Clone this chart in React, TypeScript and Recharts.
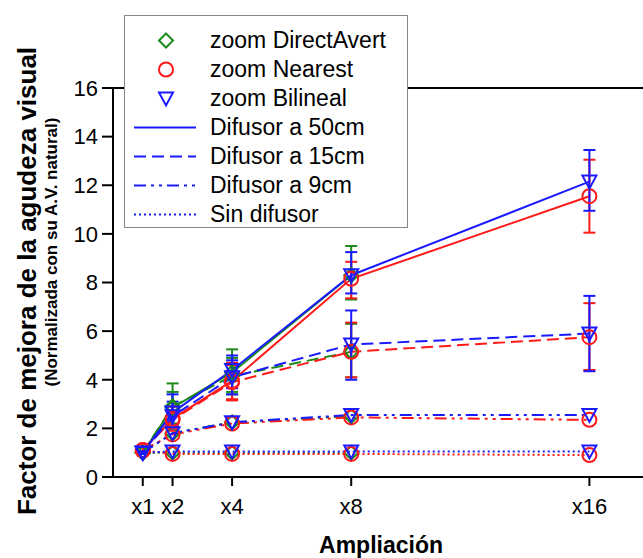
import * as React from "react";
import {
  LineChart,
  Line,
  XAxis,
  YAxis,
  ErrorBar,
  Legend,
  Label,
  ReferenceLine,
} from "recharts";

const FONT = "'Liberation Sans', Arial, sans-serif";

// magnification levels (x axis) and their labels
const zooms = [1, 2, 4, 8, 16];
const zoomLabels = ["x1", "x2", "x4", "x8", "x16"];
const yTicks = [0, 2, 4, 6, 8, 10, 12, 14, 16];

// zoom DirectAvert (green, no x16 point)
const directAvert50 = [1.0, 2.85, 4.3, 8.3];
const directAvert50Low = [0.95, 2.1, 3.5, 7.3];
const directAvert50High = [1.05, 3.85, 5.25, 9.5];
const directAvert15 = [1.0, 2.9, 4.15, 5.15];
const directAvert15Low = [0.95, 2.2, 3.4, 4.1];
const directAvert15High = [1.05, 3.5, 4.9, 6.3];
const directAvert9 = [1.0, 1.8, 2.25, 2.5];
const directAvert0 = [1.0, 1.0, 1.0, 1.0];

// zoom Nearest (red)
const nearest50 = [1.1, 2.4, 3.95, 8.15, 11.55];
const nearest50Low = [1.0, 2.0, 3.15, 7.35, 10.05];
const nearest50High = [1.2, 2.9, 4.7, 8.85, 13.05];
const nearest15 = [1.1, 2.35, 3.9, 5.15, 5.75];
const nearest15Low = [1.0, 1.9, 3.2, 4.1, 4.4];
const nearest15High = [1.2, 2.9, 4.6, 6.35, 7.15];
const nearest9 = [1.1, 1.75, 2.2, 2.45, 2.35];
const nearest0 = [1.1, 0.95, 0.95, 0.95, 0.9];

// zoom Bilineal (blue)
const bilineal50 = [1.0, 2.65, 4.4, 8.3, 12.15];
const bilineal50Low = [0.95, 2.1, 3.65, 7.55, 10.95];
const bilineal50High = [1.05, 3.4, 5.0, 9.25, 13.45];
const bilineal15 = [1.0, 2.5, 4.1, 5.45, 5.9];
const bilineal15Low = [0.95, 2.0, 3.4, 4.0, 4.35];
const bilineal15High = [1.05, 3.1, 4.8, 6.85, 7.45];
const bilineal9 = [1.0, 1.8, 2.25, 2.55, 2.55];
const bilineal0 = [1.0, 1.05, 1.05, 1.05, 1.05];

const methods = [
  { name: "zoom DirectAvert", color: "#1a8a1a", shape: "diamond" },
  { name: "zoom Nearest", color: "#ff1a1a", shape: "circle" },
  { name: "zoom Bilineal", color: "#1a1aff", shape: "triangle" },
];

const diffusers = [
  { name: "Difusor a 50cm", dash: undefined },
  { name: "Difusor a 15cm", dash: "12 6" },
  { name: "Difusor a 9cm", dash: "12 5 3 5 3 5" },
  { name: "Sin difusor", dash: "2 3" },
];

// [method][diffuser] -> values, low, high
const seriesTable: [number[], number[]?, number[]?][][] = [
  [
    [directAvert50, directAvert50Low, directAvert50High],
    [directAvert15, directAvert15Low, directAvert15High],
    [directAvert9],
    [directAvert0],
  ],
  [
    [nearest50, nearest50Low, nearest50High],
    [nearest15, nearest15Low, nearest15High],
    [nearest9],
    [nearest0],
  ],
  [
    [bilineal50, bilineal50Low, bilineal50High],
    [bilineal15, bilineal15Low, bilineal15High],
    [bilineal9],
    [bilineal0],
  ],
];

function buildData(values: number[], low?: number[], high?: number[]) {
  return values.map((v, i) => ({
    x: zooms[i],
    y: v,
    err: low && high ? [v - low[i], high[i] - v] : undefined,
  }));
}

function Marker({ shape, cx, cy, color, s = 7 }: any) {
  if (shape === "circle") {
    return <circle cx={cx} cy={cy} r={s} fill="none" stroke={color} strokeWidth={2} />;
  }
  if (shape === "diamond") {
    const pts = `${cx},${cy - s} ${cx + s},${cy} ${cx},${cy + s} ${cx - s},${cy}`;
    return <polygon points={pts} fill="none" stroke={color} strokeWidth={2} />;
  }
  const pts = `${cx - s},${cy - s + 1} ${cx + s},${cy - s + 1} ${cx},${cy + s}`;
  return <polygon points={pts} fill="none" stroke={color} strokeWidth={2} />;
}

function renderLegend() {
  return (
    <div
      style={{
        width: 284,
        height: 213,
        border: "1px solid #888",
        background: "#fff",
        fontFamily: FONT,
        fontSize: 23,
        color: "#000",
        boxSizing: "border-box",
        paddingTop: 10,
      }}
    >
      {methods.map((m) => (
        <div key={m.name} style={{ display: "flex", alignItems: "center", height: 29 }}>
          <svg width={85} height={29} style={{ flexShrink: 0 }}>
            <Marker shape={m.shape} cx={41} cy={14.5} color={m.color} s={7} />
          </svg>
          <span style={{ whiteSpace: "nowrap" }}>{m.name}</span>
        </div>
      ))}
      {diffusers.map((d) => (
        <div key={d.name} style={{ display: "flex", alignItems: "center", height: 29 }}>
          <svg width={85} height={29} style={{ flexShrink: 0 }}>
            <line x1={9} x2={71} y1={14.5} y2={14.5} stroke="#1a1aff" strokeWidth={2} strokeDasharray={d.dash} />
          </svg>
          <span style={{ whiteSpace: "nowrap" }}>{d.name}</span>
        </div>
      ))}
    </div>
  );
}

const renderYTitle = () => (
  <g>
    <text
      transform="translate(36, 281) rotate(-90)"
      textAnchor="middle"
      fontFamily={FONT}
      fontSize={26}
      fontWeight="bold"
      fill="#000"
    >
      Factor de mejora de la agudeza visual
    </text>
    <text
      transform="translate(57, 252) rotate(-90)"
      textAnchor="middle"
      fontFamily={FONT}
      fontSize={17}
      fontWeight="bold"
      fill="#000"
    >
      (Normalizada con su A.V. natural)
    </text>
  </g>
);

const renderXTitle = () => (
  <text x={381} y={553} textAnchor="middle" fontFamily={FONT} fontSize={23} fontWeight="bold" fill="#000">
    Ampliación
  </text>
);

export default function App() {
  return (
    <div style={{ position: "absolute", left: 0, top: 0, background: "#fff" }}>
      <LineChart width={643} height={558} margin={{ top: 88, right: 0, bottom: 0, left: 0 }}>
        <XAxis
          dataKey="x"
          type="number"
          domain={[0, 17.8]}
          ticks={zooms}
          allowDataOverflow
          tickFormatter={(v: number) => zoomLabels[zooms.indexOf(v)]}
          height={81}
          tickSize={9}
          tickMargin={12}
          axisLine={{ stroke: "#000", strokeWidth: 2 }}
          tickLine={{ stroke: "#000", strokeWidth: 2 }}
          tick={{ fill: "#000", fontSize: 22, fontFamily: FONT }}
        >
          <Label content={renderXTitle} />
        </XAxis>
        <YAxis
          type="number"
          domain={[0, 16]}
          ticks={yTicks}
          width={113}
          tickSize={11}
          tickMargin={4}
          axisLine={{ stroke: "#000", strokeWidth: 2 }}
          tickLine={{ stroke: "#000", strokeWidth: 2 }}
          tick={{ fill: "#000", fontSize: 22, fontFamily: FONT }}
        >
          <Label content={renderYTitle} />
        </YAxis>
        <ReferenceLine y={16} stroke="#000" strokeWidth={2} />
        {methods.map((m, mi) =>
          diffusers.map((d, di) => {
            const [vals, low, high] = seriesTable[mi][di];
            return (
              <Line
                key={`${m.name}-${d.name}`}
                data={buildData(vals, low, high)}
                dataKey="y"
                type="linear"
                stroke={m.color}
                strokeWidth={2}
                strokeDasharray={d.dash}
                isAnimationActive={false}
                activeDot={false}
                legendType="none"
                dot={(p: any) => (
                  <Marker key={`${m.name}-${d.name}-${p.index}`} shape={m.shape} cx={p.cx} cy={p.cy} color={m.color} />
                )}
              >
                {low && (
                  <ErrorBar dataKey="err" width={6} stroke={m.color} strokeWidth={2} isAnimationActive={false} />
                )}
              </Line>
            );
          })
        )}
        <Legend
          layout="vertical"
          align="center"
          verticalAlign="middle"
          content={renderLegend}
          wrapperStyle={{ left: 124, top: 15, width: 284, height: 213 }}
        />
      </LineChart>
    </div>
  );
}
